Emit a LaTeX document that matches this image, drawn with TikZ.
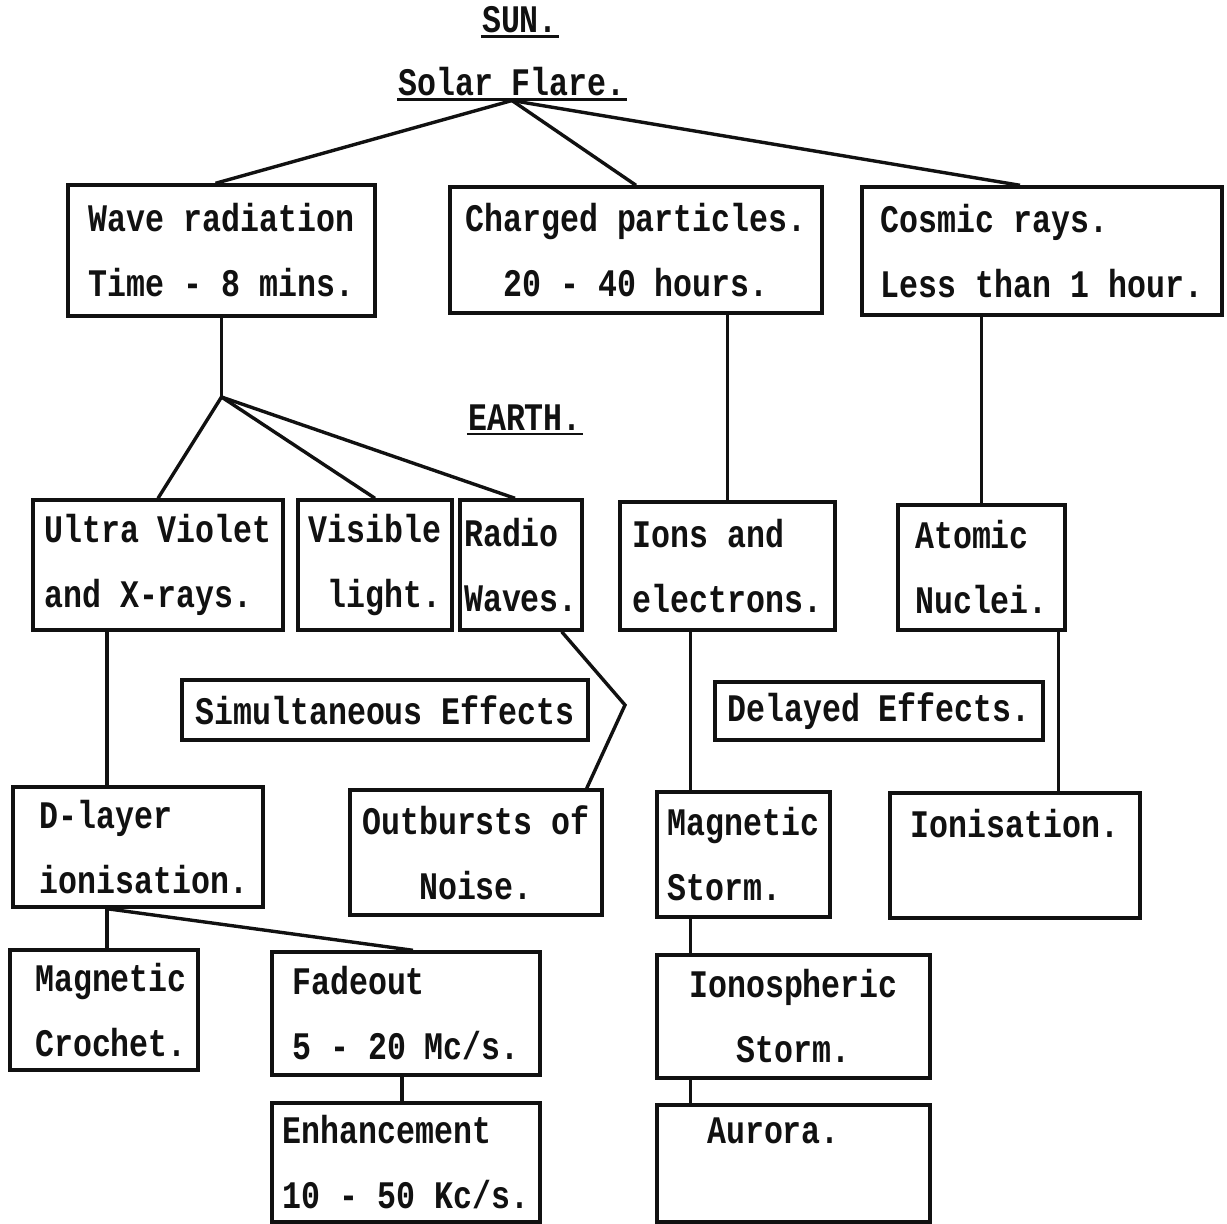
\documentclass[tikz,border=0pt]{standalone}
\usepackage{fontspec}
\setmonofont[FakeStretch=0.81]{Liberation Mono}
\definecolor{InkBlack}{HTML}{111111}
\definecolor{PaperWhite}{HTML}{FFFFFF}
\usepackage{tikz}
\usetikzlibrary{positioning, calc}
\usepackage{xcolor}

\newcommand{\typefont}{\ttfamily\bfseries\fontsize{39}{65}\selectfont}

\tikzset{
  box/.style={draw=InkBlack, line width=3.4pt, inner sep=0pt, align=left,
              font=\typefont, text=InkBlack},
  heading/.style={inner sep=1pt, font=\typefont, text=InkBlack},
  link/.style={draw=InkBlack, line width=3.4pt},
  rule/.style={draw=InkBlack, line width=2.5pt}
}

\begin{document}
\begin{tikzpicture}[x=1pt, y=-1pt]
  \fill[PaperWhite] (0,0) rectangle (1227,1224);
  \useasboundingbox (0,0) rectangle (1227,1224);

  % sun side
  \node[heading] (sun) at (520,20) {SUN.};
  \draw[rule] ([yshift=-2pt]sun.south west) -- ([yshift=-2pt]sun.south east);
  \node[heading] (flare) at (512,82) {Solar Flare.};
  \draw[rule] ([yshift=-2pt]flare.south west) -- ([yshift=-2pt]flare.south east);

  \node[box, minimum width=307pt, minimum height=131pt] (wave) at (221.5,250.5)
    {Wave radiation\\Time - 8 mins.};
  \node[box, align=center, minimum width=372pt, minimum height=126pt] (charged) at (636,250)
    {Charged particles.\\20 - 40 hours.};
  \node[box, minimum width=360pt, minimum height=128pt] (cosmic) at (1042,251)
    {Cosmic rays.\\Less than 1 hour.};

  \draw[link] ([yshift=-3pt]flare.south) -- ([xshift=-6pt]wave.north);
  \draw[link] ([yshift=-3pt]flare.south) -- (charged.north);
  \draw[link] ([yshift=-3pt]flare.south) -- ([xshift=-22pt]cosmic.north);

  % earth side
  \node[heading] (earth) at (525,418) {EARTH.};
  \draw[rule] ([yshift=-2pt]earth.south west) -- ([yshift=-2pt]earth.south east);

  \node[box, minimum width=250pt, minimum height=130pt] (uv) at (158,565)
    {Ultra Violet\\and X-rays.};
  \node[box, align=right, minimum width=154pt, minimum height=130pt] (visible) at (375,565)
    {Visible\\light.};
  \node[box, minimum width=122pt, minimum height=130pt] (radio) at (521,565)
    {Radio\\Waves.};
  \node[box, minimum width=215pt, minimum height=128pt] (ions) at (727.5,566)
    {Ions and\\electrons.};
  \node[box, minimum width=167pt, minimum height=125pt] (atomic) at (981.5,567.5)
    {Atomic\\Nuclei.};

  \coordinate (split) at (wave.south |- 0,397);
  \draw[link] (wave.south) -- (split);
  \draw[link] (split) -- (uv.north);
  \draw[link] (split) -- (visible.north);
  \draw[link] (split) -- ([xshift=-6pt]radio.north);
  \draw[link] (ions.north) -- (ions.north |- charged.south);
  \draw[link] (atomic.north) -- (atomic.north |- cosmic.south);

  \node[box, minimum width=406pt, minimum height=60pt] (simul) at (385,710)
    {Simultaneous Effects};
  \node[box, minimum width=328pt, minimum height=58pt] (delayed) at (879,711)
    {Delayed Effects.};

  % effects
  \node[box, minimum width=250pt, minimum height=120pt] (dlayer) at (138,847)
    {\hspace*{12pt}D-layer\\\hspace*{12pt}ionisation.};
  \node[box, align=center, minimum width=252pt, minimum height=125pt] (noise) at (476,852.5)
    {Outbursts of\\Noise.};
  \node[box, minimum width=173pt, minimum height=125pt] (magstorm) at (743.5,854.5)
    {Magnetic\\Storm.};
  \node[box, minimum width=250pt, minimum height=125pt] (ionis) at (1015,855.5)
    {Ionisation.\\~};

  \coordinate (bend) at (625,705);
  \draw[link] ([xshift=-22pt]radio.south east) -- (bend) -- ([xshift=-17pt]noise.north east);
  \draw[link] ([xshift=-51pt]uv.south) -- ([xshift=-51pt]uv.south |- dlayer.north);
  \draw[link] ([xshift=35pt]magstorm.north west) -- ([xshift=35pt]magstorm.north west |- ions.south);
  \draw[link] ([xshift=-8pt]atomic.south east) -- ([xshift=-8pt]atomic.south east |- ionis.north);

  \node[box, minimum width=188pt, minimum height=120pt] (crochet) at (104,1010)
    {\hspace*{14pt}Magnetic\\\hspace*{14pt}Crochet.};
  \node[box, minimum width=268pt, minimum height=123pt] (fadeout) at (406,1013.5)
    {Fadeout\\5 - 20 Mc/s.};
  \node[box, minimum width=268pt, minimum height=119pt] (enhance) at (406,1162.5)
    {Enhancement\\10 - 50 Kc/s.};
  \node[box, align=center, minimum width=273pt, minimum height=123pt] (ionostorm) at (793.5,1016.5)
    {Ionospheric\\Storm.};
  \node[box, minimum width=273pt, minimum height=117pt] (aurora) at (793.5,1163.5)
    {Aurora.\hspace*{40pt}\\~};

  \draw[link] ([xshift=-31pt]dlayer.south) -- ([xshift=-31pt]dlayer.south |- crochet.north);
  \draw[link] ([xshift=-31pt]dlayer.south) -- ([xshift=7pt]fadeout.north);
  \draw[link] ([xshift=-4pt]fadeout.south) -- ([xshift=-4pt]enhance.north);
  \draw[link] ([xshift=35pt]magstorm.south west) -- ([xshift=35pt]ionostorm.north west);
  \draw[link] ([xshift=35pt]ionostorm.south west) -- ([xshift=35pt]aurora.north west);
\end{tikzpicture}
\end{document}
